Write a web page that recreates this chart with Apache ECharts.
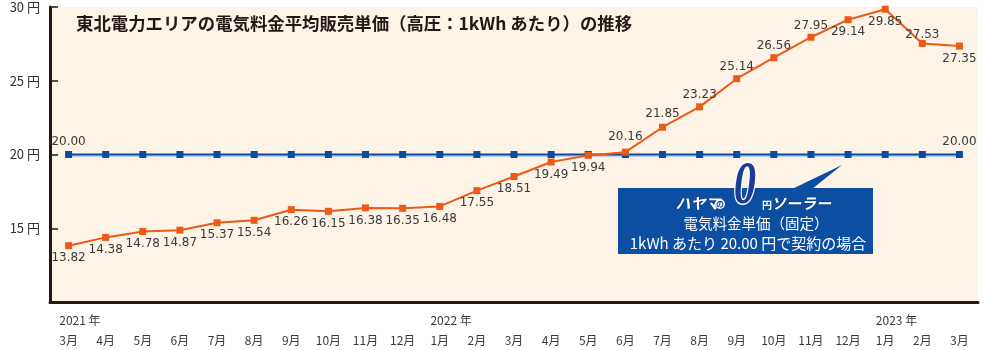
<!DOCTYPE html>
<html><head><meta charset="utf-8">
<script src="https://cdn.jsdelivr.net/npm/echarts@6.0.0/dist/echarts.min.js"></script>
<style>html,body{margin:0;padding:0;background:#fff}#c{width:989px;height:350px}</style>
</head><body><div id="c"></div>
<script>
// ---- data ----
const months = ['3月','4月','5月','6月','7月','8月','9月','10月','11月','12月','1月','2月','3月','4月','5月','6月','7月','8月','9月','10月','11月','12月','1月','2月','3月'];
const years  = ['2021 年','','','','','','','','','','2022 年','','','','','','','','','','','','2023 年','',''];
const tohokuPrice = [13.82,14.38,14.78,14.87,15.37,15.54,16.26,16.15,16.38,16.35,16.48,17.55,18.51,19.49,19.94,20.16,21.85,23.23,25.14,26.56,27.95,29.14,29.85,27.53,27.35];
const fixedPrice  = [20.00,20.00,20.00,20.00,20.00,20.00,20.00,20.00,20.00,20.00,20.00,20.00,20.00,20.00,20.00,20.00,20.00,20.00,20.00,20.00,20.00,20.00,20.00,20.00,20.00];
const yTickValues = [10,15,20,25,30];
const titleText = '東北電力エリアの電気料金平均販売単価（高圧：1kWh あたり）の推移';

// ---- style helpers ----
const FONT = '"Noto Sans CJK JP","Noto Sans",sans-serif';
const NUMFONT = '"DejaVu Sans","Noto Sans CJK JP",sans-serif';
const ORANGE = '#ec5a17', BLUE = '#0b4ca0', DARK = '#231815', TXT = '#3a3a3a';
const aboveIdx = new Set([15,16,17,18,19,20,23]);
const labelOffsets = {15:[0,-4], 16:[0,-2], 23:[0,3]};

const cv = document.createElement('canvas').getContext('2d');
cv.font = '12px "Noto Sans CJK JP"';
function tw(s){ return cv.measureText(s).width; }

const chart = echarts.init(document.getElementById('c'), null, {renderer:'canvas'});

const orangeData = tohokuPrice.map((v,i)=>{
  const up = aboveIdx.has(i);
  return {value:v, label:{position: up?'top':'bottom', distance: up?2:3, offset: labelOffsets[i]||[0,0]}};
});
const blueData = fixedPrice.map((v,i)=>({value:v, label:{show: i===0 || i===fixedPrice.length-1}}));

chart.setOption({
  animation:false,
  backgroundColor:'#ffffff',
  title:{text:titleText, left:71, top:10, textStyle:{fontFamily:FONT, fontSize:17.4, fontWeight:'bold', color:DARK}},
  grid:{left:50, right:11, top:7, bottom:47, show:true, backgroundColor:'#fdf3e7', borderWidth:0},
  xAxis:{
    type:'category', data:months, boundaryGap:true,
    axisLine:{lineStyle:{color:DARK, width:3}},
    axisTick:{inside:true, alignWithLabel:true, length:6, lineStyle:{color:'#555', width:1}},
    axisLabel:{
      interval:0, margin:8, fontFamily:FONT, fontSize:12, color:TXT, lineHeight:20,
      formatter:(m,i)=>{
        const y = years[i];
        if (y) return '{s| }{y|'+y+'}\n{m|'+m+'}';
        return '{e| }\n{m|'+m+'}';
      },
      rich:{
        s:{width: Math.max(0, tw('2021 年')-tw('3月')), align:'left', lineHeight:20, fontSize:12},
        y:{align:'left', lineHeight:20, fontSize:12, color:TXT, fontFamily:FONT},
        m:{lineHeight:20, fontSize:12, color:TXT, fontFamily:FONT},
        e:{lineHeight:20, fontSize:12}
      }
    }
  },
  yAxis:{
    type:'value', min:yTickValues[0], max:yTickValues[yTickValues.length-1], interval:5,
    axisLine:{show:true, lineStyle:{color:DARK, width:3}},
    axisTick:{show:true, inside:true, length:8, lineStyle:{color:DARK, width:1.5}},
    splitLine:{show:false},
    axisLabel:{margin:10, fontFamily:FONT, fontSize:13, color:'#333', formatter:v=> v===yTickValues[0] ? '' : v+' 円'}
  },
  series:[
    {type:'line', name:'fixed', data:blueData, symbol:'rect', symbolSize:7,
     itemStyle:{color:BLUE}, lineStyle:{color:BLUE, width:2, shadowColor:'rgba(110,155,215,0.45)', shadowBlur:1, shadowOffsetY:1.5},
     label:{position:'top', distance:3, fontFamily:NUMFONT, fontSize:12, color:TXT, formatter:p=>p.value.toFixed(2)}, z:2},
    {type:'line', name:'tohoku', data:orangeData, symbol:'rect', symbolSize:7,
     itemStyle:{color:ORANGE}, lineStyle:{color:ORANGE, width:2},
     label:{show:true, fontFamily:NUMFONT, fontSize:12, color:TXT, formatter:p=>p.value.toFixed(2)}, z:3}
  ],
  graphic:[
    {type:'polygon', z:10, shape:{points:[[792,189],[812,189],[842,165]]}, style:{fill:'#0b4ea2'}},
    {type:'rect', z:10, shape:{x:618, y:188, width:255, height:66}, style:{fill:'#0b4ea2'}},
    {type:'text', z:11, style:{x:698, y:203, text:'ハヤマ', align:'center', verticalAlign:'middle', font:'italic bold 15px "Noto Sans CJK JP"', fill:'#ffffff', stroke:'#06306e', lineWidth:1}},
    {type:'circle', z:11, shape:{cx:720, cy:204, r:5}, style:{fill:'#ffffff'}},
    {type:'text', z:12, style:{x:720, y:204, text:'の', align:'center', verticalAlign:'middle', font:'bold 8px "Noto Sans CJK JP"', fill:'#0b4ea2'}},
    {type:'text', z:12, x:745, y:187, scaleX:0.72, style:{x:0, y:0, text:'0', align:'center', verticalAlign:'middle', font:'italic bold 62px "Liberation Serif"', fill:'#1a3c93', stroke:'#ffffff', lineWidth:3}},
    {type:'text', z:11, style:{x:767, y:205, text:'円', align:'center', verticalAlign:'middle', font:'bold 10px "Noto Sans CJK JP"', fill:'#ffffff'}},
    {type:'text', z:11, style:{x:801, y:203, text:'ソーラー', align:'center', verticalAlign:'middle', font:'italic bold 15px "Noto Sans CJK JP"', fill:'#ffffff', stroke:'#06306e', lineWidth:1}},
    {type:'text', z:11, style:{x:756, y:223, text:'電気料金単価（固定）', align:'center', verticalAlign:'middle', font:'14.5px "Noto Sans CJK JP"', fill:'#ffffff'}},
    {type:'text', z:11, style:{x:748, y:243, text:'1kWh あたり 20.00 円で契約の場合', align:'center', verticalAlign:'middle', font:'15px "Noto Sans CJK JP"', fill:'#ffffff'}}
  ]
});
</script></body></html>
